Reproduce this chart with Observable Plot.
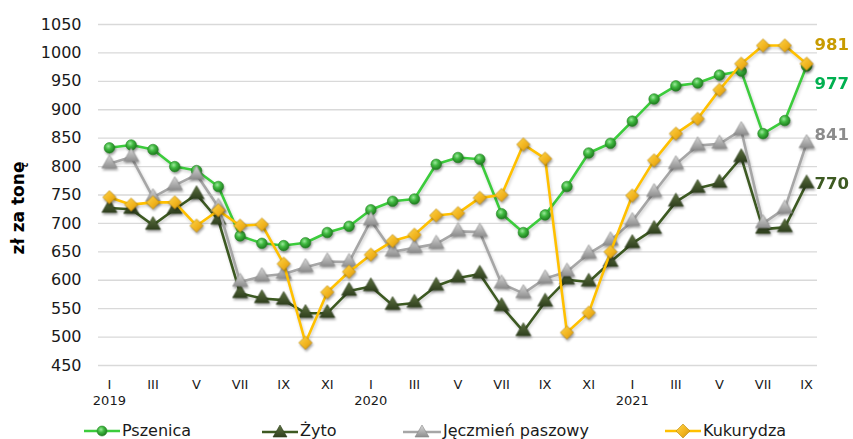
<!DOCTYPE html>
<html>
<head>
<meta charset="utf-8">
<script src="https://cdn.jsdelivr.net/npm/d3@7"></script>
<script src="https://cdn.jsdelivr.net/npm/@observablehq/plot@0.6"></script>
<style>
  html, body { margin: 0; padding: 0; background: #fff; }
  #wrap { position: relative; width: 853px; height: 439px; overflow: hidden; font-family: "DejaVu Sans", Verdana, sans-serif; }
  #chart svg g[aria-label="dot"] { filter: drop-shadow(1px 2px 1.2px rgba(0,0,0,0.35)); }
  #chart svg g[aria-label="line"] { filter: drop-shadow(1px 2px 1.5px rgba(0,0,0,0.18)); }
  .leg { position: absolute; top: 421px; height: 20px; line-height: 20px; font-size: 16px; color: #1a1a1a; display: flex; align-items: center; white-space: nowrap; }
  .leg svg { margin-right: 2px; }
</style>
</head>
<body>
<svg width="0" height="0" style="position:absolute">
  <defs>
    <radialGradient id="gCircle" cx="40%" cy="35%" r="65%">
      <stop offset="0%" stop-color="#9be89b"/>
      <stop offset="45%" stop-color="#3fb83f"/>
      <stop offset="100%" stop-color="#1f7a1f"/>
    </radialGradient>
    <linearGradient id="gDark" x1="0" y1="0" x2="0" y2="1">
      <stop offset="0%" stop-color="#5d7240"/>
      <stop offset="100%" stop-color="#2f3f1e"/>
    </linearGradient>
    <linearGradient id="gGray" x1="0" y1="0" x2="0" y2="1">
      <stop offset="0%" stop-color="#d8d8d8"/>
      <stop offset="100%" stop-color="#8e8e8e"/>
    </linearGradient>
    <linearGradient id="gGold" x1="0" y1="0" x2="1" y2="1">
      <stop offset="0%" stop-color="#ffd54a"/>
      <stop offset="60%" stop-color="#f0b21c"/>
      <stop offset="100%" stop-color="#c98e10"/>
    </linearGradient>
  </defs>
</svg>
<div id="wrap">
  <div id="chart"></div>
  <div class="leg" style="left:84px"><svg width="36" height="14"><line x1="0" y1="7" x2="36" y2="7" stroke="#3ccc3c" stroke-width="2.5"/><circle cx="18" cy="7" r="5" fill="url(#gCircle)" stroke="#2a8a2a" stroke-width="0.6"/></svg>Pszenica</div>
  <div class="leg" style="left:262px"><svg width="36" height="16"><line x1="0" y1="9" x2="36" y2="9" stroke="#3d5a22" stroke-width="2.5"/><path d="M18,2 L25,14 L11,14 Z" fill="url(#gDark)" stroke="#2f3f1e" stroke-width="0.6"/></svg>Żyto</div>
  <div class="leg" style="left:403px"><svg width="38" height="16"><line x1="0" y1="9" x2="38" y2="9" stroke="#a6a6a6" stroke-width="2.5"/><path d="M19,2 L26,14 L12,14 Z" fill="url(#gGray)" stroke="#8a8a8a" stroke-width="0.6"/></svg>Jęczmień paszowy</div>
  <div class="leg" style="left:665px"><svg width="36" height="16"><line x1="0" y1="8" x2="36" y2="8" stroke="#ffc000" stroke-width="2.5"/><path d="M18,1 L25,8 L18,15 L11,8 Z" fill="url(#gGold)" stroke="#b8860b" stroke-width="0.6"/></svg>Kukurydza</div>
</div>
<script>
// ---- data ----
const romans = ["I","II","III","IV","V","VI","VII","VIII","IX","X","XI","XII"];
const years = ["2019","2020","2021"];
const yTicks = [450,500,550,600,650,700,750,800,850,900,950,1000,1050];

const pszenica = [833,838,830,800,793,765,678,665,661,666,684,695,
                  724,739,743,804,816,813,717,684,715,765,824,841,
                  880,919,942,947,961,968,858,881,977];
const zyto     = [727,725,697,725,751,706,577,568,565,542,542,581,
                  589,556,560,590,604,611,554,510,562,601,597,632,
                  665,690,738,762,771,816,690,693,770];
const jeczmien = [805,817,746,767,786,729,597,607,611,623,633,632,
                  705,650,657,664,686,685,594,577,603,615,647,670,
                  704,755,804,837,840,864,700,726,841];
const kukurydza= [746,733,737,737,696,723,696,698,629,490,579,615,
                  645,669,680,714,718,745,750,839,814,508,543,650,
                  749,811,858,884,935,981,1013,1013,981];

const endLabels = [
  {name: "Kukurydza", value: 981, color: "#c89b00", dy: -19},
  {name: "Pszenica", value: 977, color: "#00b050", dy: 18},
  {name: "Jęczmień paszowy", value: 841, color: "#8c8c8c", dy: -9},
  {name: "Żyto", value: 770, color: "#3d5a22", dy: 0}
];

const series = [
  {values: pszenica, line: "#3ccc3c", symbol: "circle", fill: "url(#gCircle)", stroke: "#2a8a2a", r: 5.3},
  {values: zyto, line: "#3d5a22", symbol: "triangle", fill: "url(#gDark)", stroke: "#2f3f1e", r: 5.6},
  {values: jeczmien, line: "#a6a6a6", symbol: "triangle", fill: "url(#gGray)", stroke: "#8a8a8a", r: 5.6},
  {values: kukurydza, line: "#ffc000", symbol: "diamond2", fill: "url(#gGold)", stroke: "#b8860b", r: 6}
];

const n = pszenica.length;
const idx = d3.range(n);
const lastIdx = n - 1;

const marks = [
  Plot.gridY({ticks: yTicks, stroke: "#d9d9d9", strokeOpacity: 1, strokeWidth: 1.3}),
  Plot.axisY({ticks: yTicks, tickFormat: d => String(d), tickSize: 0, tickPadding: 17, fontSize: 16, label: null}),
  Plot.axisX({ticks: d3.range(0, n, 2), tickFormat: i => romans[i % 12], tickSize: 0, tickPadding: 14, fontSize: 13, label: null}),
  Plot.axisX({ticks: [0, 12, 24], tickFormat: i => years[Math.floor(i / 12)], tickSize: 0, tickPadding: 30, fontSize: 13, label: null}),
  Plot.text(["zł za tonę"], {frameAnchor: "left", textAnchor: "middle", dx: -80, dy: 13, rotate: -90, fontWeight: "bold", fontSize: 17, fontFamily: "DejaVu Sans, Verdana, sans-serif", fill: "#000"})
];

for (const s of series) {
  marks.push(Plot.line(idx, {x: i => i, y: i => s.values[i], stroke: s.line, strokeWidth: 2.6, curve: "linear"}));
  marks.push(Plot.dot(idx, {x: i => i, y: i => s.values[i], symbol: s.symbol, r: s.r, fill: s.fill, stroke: s.stroke, strokeWidth: 0.6}));
}

for (const e of endLabels) {
  marks.push(Plot.text([e], {x: () => lastIdx, y: d => d.value, text: d => String(d.value), dx: 8, dy: e.dy, textAnchor: "start", fill: e.color, fontWeight: "bold", fontSize: 16.5, fontFamily: "DejaVu Sans, Verdana, sans-serif"}));
}

const chart = Plot.plot({
  width: 853,
  height: 410,
  marginTop: 24,
  marginBottom: 45,
  marginLeft: 98,
  marginRight: 36,
  style: {fontFamily: "DejaVu Sans, Verdana, sans-serif", color: "#1a1a1a", background: "white", overflow: "visible"},
  x: {type: "linear", domain: [-0.5, n - 0.5], axis: null},
  y: {domain: [450, 1050], axis: null},
  marks
});
document.getElementById("chart").appendChild(chart);
</script>
</body>
</html>
